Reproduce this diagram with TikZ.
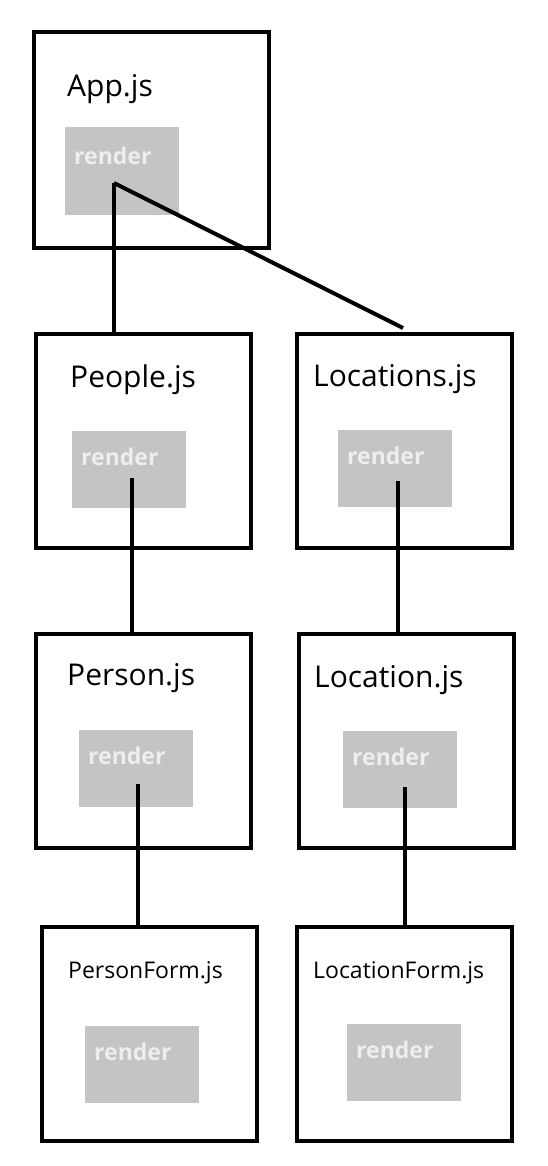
\documentclass[tikz,border=0pt]{standalone}
\usepackage{fontspec}
\setmainfont{Open Sans}
\usepackage{xcolor}
\usepackage{tikz}

\definecolor{rendergray}{HTML}{C4C4C4}
\definecolor{renderlabel}{HTML}{EEEEEE}

\begin{document}
\begin{tikzpicture}[x=1pt,y=-1pt,
		comp/.style={draw,line width=4pt,anchor=north west,inner sep=0,minimum width=215pt,minimum height=214pt},
		rbox/.style={fill=rendergray,anchor=north west,inner sep=0,minimum width=114pt,minimum height=77pt},
		rlabel/.style={anchor=base west,inner sep=0,text=renderlabel,font=\fontsize{23}{27}\selectfont\bfseries},
		title/.style={anchor=base west,inner sep=0,font=\fontsize{30}{36}\selectfont},
		formtitle/.style={title,font=\fontsize{23}{28}\selectfont},
		link/.style={line width=4pt}]
			\useasboundingbox (0,0) rectangle (548,1166);
			% component frames
			\node[comp,minimum width=235pt,minimum height=216pt] (app) at (32,30) {};
			\foreach \n/\x/\y in {people/34/332,locations/295/332,person/34/632,location/297/632,personform/40/925,locationform/295/925} {
				\node[comp] (\n) at (\x,\y) {};
			}
			% render boxes
			\node[rbox,minimum height=88pt] (appr) at (65,127) {};
			\node[rlabel] (apprl) at ([xshift=9pt,yshift=-38pt]appr.north west) {render};
			\foreach \n/\x/\y in {people/72/431,locations/338/430,person/79/730,location/343/731,personform/85/1026,locationform/347/1024} {
				\node[rbox] (\n r) at (\x,\y) {};
				\node[rlabel] (\n rl) at ([xshift=9pt,yshift=-34pt]\n r.north west) {render};
			}
			% titles
			\node[title] (apptitle) at (67,97) {App.js};
			\node[title] (peopletitle) at (70,387) {People.js};
			\node[title] (locationstitle) at (313,386) {Locations.js};
			\node[title] (persontitle) at (67,685) {Person.js};
			\node[title] (locationtitle) at (314,687) {Location.js};
			\node[formtitle] (personformtitle) at (68,978) {PersonForm.js};
			\node[formtitle] (locationformtitle) at (313,978) {LocationForm.js};
			% links
			\coordinate (appc) at (114,183);
			\coordinate (peoplec) at (132,478);
			\coordinate (locationsc) at (398,481);
			\coordinate (personc) at (138,784);
			\coordinate (locationc) at (405,787);
			\coordinate (loctop) at (403,328);
			\draw[link] (appc) -- (appc |- people.north);
			\draw[link] (appc) -- (loctop);
			\draw[link] (peoplec) -- (peoplec |- person.north);
			\draw[link] (locationsc) -- (locationsc |- location.north);
			\draw[link] (personc) -- (personc |- personform.north);
			\draw[link] (locationc) -- (locationc |- locationform.north);
\end{tikzpicture}
\end{document}
